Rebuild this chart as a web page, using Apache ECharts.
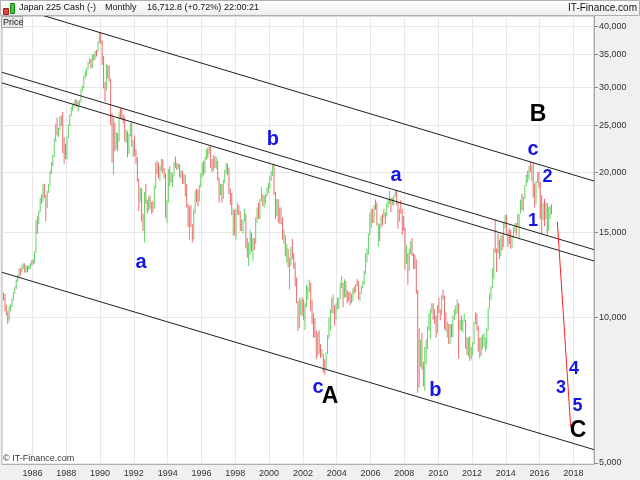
<!DOCTYPE html>
<html><head><meta charset="utf-8">
<script src="https://cdn.jsdelivr.net/npm/echarts@6/dist/echarts.min.js"></script>
<style>html,body{margin:0;padding:0;background:#fff}#c{width:640px;height:480px}</style>
</head><body><div id="c"></div><script>
// Monthly bars, first bar = April 1984, values in thousands of index points
const startYear = 1984, startMonth = 4;
const opens = [
11.15,10.95,10.35,10.18,9.90,10.45,10.55,10.90,11.25,
11.54,11.99,12.20,12.58,12.43,12.78,12.88,12.50,12.72,12.70,12.80,12.90,
13.11,13.02,13.64,15.86,15.83,16.59,17.65,17.51,18.79,17.85,16.91,18.20,
18.82,20.02,20.77,21.57,23.27,24.90,24.18,24.49,26.03,26.01,22.77,22.69,
21.56,23.62,24.99,26.26,27.26,27.42,27.77,28.08,27.37,27.92,28.00,29.58,
30.16,31.58,31.99,32.84,33.71,34.27,32.95,34.95,34.43,35.64,35.55,37.27,
38.92,37.19,34.59,29.98,29.59,33.13,31.94,31.04,25.98,20.98,25.19,22.46,
23.85,23.29,26.41,26.29,26.11,25.79,23.29,24.12,22.34,23.92,25.22,22.69,
22.98,22.02,21.34,19.35,17.39,18.35,15.95,15.91,18.06,17.40,16.77,17.68,
16.93,17.02,16.95,18.59,20.92,20.55,19.59,20.38,21.03,20.11,19.70,16.41,
17.42,20.23,19.11,19.11,19.73,20.97,20.64,20.45,20.63,19.56,19.99,19.08,
19.72,18.65,17.05,16.14,16.81,15.44,14.52,16.68,18.12,17.91,17.66,18.74,
19.87,20.81,20.13,21.41,22.04,21.96,22.53,20.69,20.17,21.56,20.47,21.02,
19.36,18.33,18.56,18.00,19.15,20.07,20.61,20.33,18.23,17.89,16.46,16.64,
15.26,16.63,16.83,16.53,15.64,15.67,15.83,16.38,14.11,13.41,13.57,14.88,
13.84,14.50,14.37,15.84,16.70,16.11,17.53,17.86,17.44,17.61,17.94,18.56,
18.93,19.54,19.96,20.34,17.97,16.33,17.41,15.73,16.86,15.75,14.54,14.65,
13.79,13.84,12.88,13.00,13.93,13.26,12.97,11.86,10.71,9.78,10.37,10.70,
10.54,10.00,10.59,11.02,11.49,11.76,10.62,9.88,9.62,9.38,8.64,9.22,
8.58,8.34,8.36,7.97,7.83,8.42,9.08,9.56,10.34,10.22,10.56,10.10,
10.68,10.78,11.04,11.72,11.76,11.24,11.86,11.33,11.08,10.82,10.77,10.90,
11.49,11.39,11.74,11.67,11.01,11.28,11.58,11.90,12.41,13.57,13.61,14.87,
16.11,16.65,16.21,17.06,16.91,15.47,15.51,15.46,16.14,16.13,16.40,16.27,
17.23,17.38,17.60,17.29,17.40,17.88,18.14,17.25,16.57,16.79,16.74,15.68,
15.31,13.59,13.60,12.53,13.85,14.34,13.48,13.38,13.07,11.26,8.58,8.51,
8.86,7.99,7.57,8.11,8.83,9.52,9.96,10.36,10.49,10.13,10.03,9.35,
10.55,10.20,10.13,11.09,11.06,9.77,9.38,9.54,8.82,9.37,9.20,9.94,
10.23,10.24,10.62,9.76,9.85,9.69,9.82,9.83,8.96,8.70,8.99,8.43,
8.46,8.80,9.72,10.08,9.52,8.54,9.01,8.70,8.84,8.87,8.93,9.45,
10.40,11.14,11.56,12.40,13.86,13.77,13.68,13.67,13.39,14.46,14.33,15.66,
16.29,14.91,14.84,14.83,14.30,14.63,15.16,15.62,15.43,16.17,16.41,17.46,
17.45,17.67,18.80,19.21,19.52,20.56,20.24,20.59,18.89,17.39,19.08,19.75,
19.03,17.52,16.03,16.76,16.67,17.23,15.58,16.57,16.89
];
const highs = [
11.25,11.19,10.60,10.30,10.55,10.65,10.95,11.30,11.60,
12.00,12.25,12.65,12.65,12.85,12.95,12.95,12.80,12.80,12.85,12.95,13.15,
13.20,13.70,15.90,16.20,16.65,17.70,18.00,18.94,18.90,17.95,18.30,18.90,
20.10,21.00,21.70,23.50,25.20,25.93,24.70,26.10,26.20,26.65,23.60,22.90,
23.70,25.10,26.30,27.30,27.60,28.00,28.35,28.20,28.00,28.20,29.60,30.20,
31.70,32.40,32.90,33.80,34.40,34.30,35.00,35.10,35.70,35.80,37.30,38.96,
38.95,37.50,34.80,30.70,33.50,33.30,33.20,31.20,26.50,25.90,25.30,24.20,
24.10,26.60,27.15,27.00,26.30,26.00,24.50,24.30,24.00,25.30,25.40,23.30,
23.80,22.30,21.50,19.40,18.60,18.50,16.40,18.20,18.90,17.50,17.80,17.90,
17.35,17.40,18.70,20.95,21.10,20.90,20.60,21.28,21.30,20.40,19.90,17.50,
20.30,20.60,20.00,19.90,21.00,21.55,20.90,20.80,20.75,20.20,20.10,19.80,
19.80,18.90,17.20,17.00,17.10,15.60,16.80,18.30,18.50,18.40,18.80,19.90,
20.90,21.10,21.50,22.30,22.50,22.75,22.60,21.30,21.70,21.60,21.50,21.10,
19.50,18.90,18.90,19.30,20.20,20.90,20.80,20.40,18.50,18.10,16.80,16.70,
16.80,17.30,17.10,16.60,16.00,15.90,16.80,16.40,14.60,14.30,15.20,15.00,
14.60,14.60,16.10,16.90,17.30,17.60,18.60,18.00,17.90,18.00,18.60,19.00,
19.60,20.10,20.70,20.83,18.20,17.60,17.60,16.90,16.90,16.10,15.20,14.80,
14.20,13.90,13.30,14.00,14.56,13.60,13.00,12.10,10.80,11.00,10.90,11.00,
10.90,10.70,11.70,11.60,11.98,11.80,10.90,10.20,9.95,9.40,9.30,9.40,
8.80,8.60,8.40,8.20,8.45,9.20,10.00,10.40,11.00,11.16,10.60,10.70,
11.00,11.00,11.80,12.20,11.80,12.00,11.90,11.40,11.30,11.30,11.20,11.50,
11.60,11.75,12.00,11.90,11.30,11.60,11.90,12.50,13.60,13.90,14.90,16.45,
16.80,16.80,17.10,17.56,17.30,15.70,15.60,16.20,16.40,16.80,16.50,17.30,
17.60,18.30,17.70,17.70,17.90,18.30,18.30,17.40,16.80,17.50,16.80,16.20,
15.35,14.10,13.60,13.90,14.40,14.60,13.60,13.50,13.20,11.40,9.50,9.00,
9.30,8.10,8.70,9.00,9.60,10.20,10.40,10.70,10.70,10.40,10.10,10.60,
10.98,10.40,11.10,11.41,11.10,10.25,9.80,9.70,9.70,9.70,10.10,10.40,
10.60,10.90,10.70,9.90,10.10,9.90,10.20,9.90,9.10,9.10,9.15,8.70,
8.90,9.80,10.26,10.20,9.60,9.10,9.10,9.20,9.30,9.10,9.50,10.45,
11.20,11.60,12.65,13.90,15.94,13.90,14.95,14.50,14.80,14.80,15.75,16.32,
16.32,15.00,15.30,15.20,14.70,15.40,15.70,15.70,16.40,16.40,17.52,18.03,
17.80,18.80,19.78,20.13,20.60,20.95,20.65,20.95,18.95,19.20,20.01,20.01,
19.10,17.90,17.29,17.61,17.30,17.25,16.94,17.00,17.16
];
const lows = [
10.85,10.30,10.10,9.70,9.85,10.30,10.50,10.85,11.20,
11.45,11.85,12.10,12.20,12.40,12.60,12.40,12.40,12.40,12.55,12.60,12.80,
12.88,12.95,13.60,14.90,15.60,16.50,17.20,17.40,17.70,15.82,16.85,18.10,
18.70,19.80,20.60,21.50,23.10,23.80,23.60,24.40,24.90,21.91,20.80,21.30,
21.20,23.50,24.90,26.10,26.80,27.20,27.50,27.20,26.70,27.40,27.90,29.40,
29.80,31.20,31.60,32.60,33.50,32.80,32.80,34.00,34.20,34.70,35.40,37.00,
36.80,33.30,29.80,28.00,29.50,31.20,30.80,25.00,20.90,19.78,22.10,22.30,
22.10,23.10,25.90,25.70,25.20,23.10,23.00,21.46,21.80,23.70,22.60,21.50,
21.60,20.80,19.10,16.60,17.30,15.80,15.10,14.31,17.20,16.40,16.60,16.80,
16.40,16.50,16.80,18.50,19.80,19.40,19.20,20.10,19.90,19.40,16.08,15.67,
17.30,18.70,19.00,18.60,19.60,20.40,20.20,20.30,19.50,19.40,18.90,18.90,
17.80,16.90,15.40,14.49,15.40,14.30,14.50,16.40,17.30,17.00,17.40,18.60,
19.50,19.70,19.90,21.20,21.40,21.80,20.40,20.00,20.10,20.40,20.30,19.20,
17.30,17.90,17.30,17.60,19.00,19.90,19.70,18.00,17.10,16.30,14.77,14.80,
14.50,16.30,16.30,15.10,15.10,14.90,15.80,13.90,13.30,12.79,13.50,13.70,
13.10,13.80,14.20,15.70,16.00,16.00,17.40,17.00,16.90,17.20,17.80,18.10,
18.50,19.20,19.60,17.90,16.00,16.20,15.70,15.60,15.60,14.50,14.20,13.40,
13.00,12.70,11.43,12.80,13.20,12.60,11.60,10.70,9.38,9.50,10.10,10.10,
9.90,9.42,10.50,10.90,11.30,10.30,9.70,9.08,9.10,8.20,8.30,8.40,
8.25,8.30,7.70,7.61,7.80,8.40,9.05,9.40,10.20,10.20,9.61,9.90,
10.40,10.40,10.90,11.50,10.50,11.00,11.00,10.70,10.80,10.60,10.70,10.80,
11.20,11.30,11.60,10.90,10.80,11.20,11.50,11.70,12.30,13.00,13.50,14.80,
15.34,15.70,15.70,16.70,15.50,14.05,14.40,15.30,15.50,16.10,15.60,16.20,
16.90,17.20,16.53,17.10,17.00,17.80,17.10,15.27,15.80,16.40,14.80,15.10,
12.57,12.90,11.69,12.50,13.50,13.40,12.60,12.60,11.20,6.99,7.16,7.90,
7.80,7.20,7.05,8.00,8.60,9.40,9.05,10.20,9.90,9.70,9.08,9.30,
10.20,9.87,10.10,10.90,9.46,9.36,9.09,8.81,8.80,9.10,9.10,9.90,
10.10,10.20,8.23,9.40,9.40,9.30,9.80,8.62,8.36,8.30,8.14,8.20,
8.35,8.80,9.70,9.40,8.50,8.24,8.33,8.60,8.70,8.50,8.60,9.40,
10.40,10.90,11.50,12.00,13.60,12.42,13.60,13.20,13.40,13.80,14.00,15.30,
14.90,13.99,14.20,13.88,13.96,14.60,15.00,14.75,15.40,14.53,16.40,16.67,
16.59,17.60,18.70,19.00,19.30,19.99,19.12,17.70,16.90,17.20,19.00,18.50,
16.02,14.87,15.90,15.47,16.00,14.86,15.10,16.00,16.36
];
const closes = [
10.95,10.35,10.18,9.90,10.45,10.55,10.90,11.25,11.54,
11.99,12.20,12.58,12.43,12.78,12.88,12.50,12.72,12.70,12.80,12.90,13.11,
13.02,13.64,15.86,15.83,16.59,17.65,17.51,18.79,17.85,16.91,18.20,18.82,
20.02,20.77,21.57,23.27,24.90,24.18,24.49,26.03,26.01,22.77,22.69,21.56,
23.62,24.99,26.26,27.26,27.42,27.77,28.08,27.37,27.92,28.00,29.58,30.16,
31.58,31.99,32.84,33.71,34.27,32.95,34.95,34.43,35.64,35.55,37.27,38.92,
37.19,34.59,29.98,29.59,33.13,31.94,31.04,25.98,20.98,25.19,22.46,23.85,
23.29,26.41,26.29,26.11,25.79,23.29,24.12,22.34,23.92,25.22,22.69,22.98,
22.02,21.34,19.35,17.39,18.35,15.95,15.91,18.06,17.40,16.77,17.68,16.93,
17.02,16.95,18.59,20.92,20.55,19.59,20.38,21.03,20.11,19.70,16.41,17.42,
20.23,19.11,19.11,19.73,20.97,20.64,20.45,20.63,19.56,19.99,19.08,19.72,
18.65,17.05,16.14,16.81,15.44,14.52,16.68,18.12,17.91,17.66,18.74,19.87,
20.81,20.13,21.41,22.04,21.96,22.53,20.69,20.17,21.56,20.47,21.02,19.36,
18.33,18.56,18.00,19.15,20.07,20.61,20.33,18.23,17.89,16.46,16.64,15.26,
16.63,16.83,16.53,15.64,15.67,15.83,16.38,14.11,13.41,13.57,14.88,13.84,
14.50,14.37,15.84,16.70,16.11,17.53,17.86,17.44,17.61,17.94,18.56,18.93,
19.54,19.96,20.34,17.97,16.33,17.41,15.73,16.86,15.75,14.54,14.65,13.79,
13.84,12.88,13.00,13.93,13.26,12.97,11.86,10.71,9.78,10.37,10.70,10.54,
10.00,10.59,11.02,11.49,11.76,10.62,9.88,9.62,9.38,8.64,9.22,8.58,
8.34,8.36,7.97,7.83,8.42,9.08,9.56,10.34,10.22,10.56,10.10,10.68,
10.78,11.04,11.72,11.76,11.24,11.86,11.33,11.08,10.82,10.77,10.90,11.49,
11.39,11.74,11.67,11.01,11.28,11.58,11.90,12.41,13.57,13.61,14.87,16.11,
16.65,16.21,17.06,16.91,15.47,15.51,15.46,16.14,16.13,16.40,16.27,17.23,
17.38,17.60,17.29,17.40,17.88,18.14,17.25,16.57,16.79,16.74,15.68,15.31,
13.59,13.60,12.53,13.85,14.34,13.48,13.38,13.07,11.26,8.58,8.51,8.86,
7.99,7.57,8.11,8.83,9.52,9.96,10.36,10.49,10.13,10.03,9.35,10.55,
10.20,10.13,11.09,11.06,9.77,9.38,9.54,8.82,9.37,9.20,9.94,10.23,
10.24,10.62,9.76,9.85,9.69,9.82,9.83,8.96,8.70,8.99,8.43,8.46,
8.80,9.72,10.08,9.52,8.54,9.01,8.70,8.84,8.87,8.93,9.45,10.40,
11.14,11.56,12.40,13.86,13.77,13.68,13.67,13.39,14.46,14.33,15.66,16.29,
14.91,14.84,14.83,14.30,14.63,15.16,15.62,15.43,16.17,16.41,17.46,17.45,
17.67,18.80,19.21,19.52,20.56,20.24,20.59,18.89,17.39,19.08,19.75,19.03,
17.52,16.03,16.76,16.67,17.23,15.58,16.57,16.89,16.7128
];
const lastPrice = 16712.8;

// axis ticks
const yearTicks = [1986,1988,1990,1992,1994,1996,1998,2000,2002,2004,2006,2008,2010,2012,2014,2016,2018];
const priceTicks = [5000,10000,15000,20000,25000,30000,35000,40000];

// drawn channel lines: [year, price] end points
const topLine   = [[1984.2, 44740], [2019.22, 19167]];
const midLineA  = [[1984.2, 32178], [2019.22, 13821]];
const midLineB  = [[1984.2, 30593], [2019.22, 13091]];
const lowLine   = [[1984.2, 12404], [2019.22, 5328]];
const projLine  = [[2017.05, 15787], [2017.84, 5942]];

// wave labels
const waveText  = ['a','b','c','A','a','b','B','c','2','1','3','4','5','C'];
const waveYear  = [1992.42,2000.23,2002.89,2003.60,2007.51,2009.84,2015.91,2015.61,2016.47,2015.61,2017.27,2018.04,2018.24,2018.27];
const wavePrice = [13028,23415,7180,6846,19724,7078,26253,22325,19535,15840,7146,7823,6558,5821];

const UNIT = 1000;
const bars = [];
const n = Math.min(opens.length, highs.length, lows.length, closes.length);
for (let i = 0; i < n; i++) {
  const m = startMonth - 1 + i;
  const t = startYear + Math.floor(m / 12) + ((m % 12) + 0.5) / 12;
  bars.push([t, opens[i] * UNIT, closes[i] * UNIT, lows[i] * UNIT, highs[i] * UNIT]);
}
const waves = waveText.map((s, i) => [waveYear[i], wavePrice[i], s]);

const FONT = 'Liberation Sans, Arial, sans-serif';
const UP = '#62d262', DOWN = '#ec6c6c';
const fmt = v => String(Math.round(v)).replace(/\B(?=(\d{3})+(?!\d))/g, ',');

const lineSeries = (d, color) => ({
  type: 'line', data: d, symbol: 'none', silent: true, clip: true, z: 3,
  lineStyle: { color: color, width: 1 }, animation: false
});

const chart = echarts.init(document.getElementById('c'), null, { renderer: 'canvas' });
const option = {
  animation: false,
  backgroundColor: '#eff0f2',
  grid: { left: 2, right: 46, top: 16, bottom: 16, show: true, backgroundColor: '#ffffff', borderColor: '#b5b5b5', borderWidth: 1 },
  xAxis: {
    type: 'value', min: 1984.2, max: 2019.22,
    axisLine: { show: true, lineStyle: { color: '#b0b0b0' } },
    axisTick: { show: false, customValues: yearTicks },
    axisLabel: { customValues: yearTicks, formatter: v => String(v), color: '#333', fontSize: 9, fontFamily: FONT, margin: 5 },
    splitLine: { show: true, lineStyle: { color: '#e8e8e8', width: 1 } }
  },
  yAxis: {
    type: 'log', logBase: 10, position: 'right', min: 4975, max: 42085,
    axisLine: { show: true, lineStyle: { color: '#a8a8a8' } },
    axisTick: { show: true, length: 4, customValues: priceTicks, lineStyle: { color: '#888' } },
    axisLabel: { customValues: priceTicks, formatter: v => fmt(v), color: '#333', fontSize: 9, fontFamily: FONT, margin: 5 },
    splitLine: { show: true, lineStyle: { color: '#e8e8e8', width: 1 } }
  },
  series: [
    {
      type: 'custom', data: bars, clip: true, z: 2, silent: true,
      encode: { x: 0, y: [1, 2, 3, 4] },
      renderItem: function (params, api) {
        const x = api.value(0), o = api.value(1), c = api.value(2), l = api.value(3), h = api.value(4);
        const pl = api.coord([x, l]), ph = api.coord([x, h]);
        return { type: 'rect', shape: { x: pl[0] - 0.5, y: ph[1], width: 1, height: Math.max(1, pl[1] - ph[1]) },
                 style: { fill: c >= o ? UP : DOWN } };
      }
    },
    lineSeries(topLine, '#1e1e1e'),
    Object.assign(lineSeries(midLineA, '#1e1e1e'), {
      markLine: {
        silent: true, symbol: 'none', animation: false,
        data: [{ yAxis: lastPrice }],
        lineStyle: { opacity: 0 },
        label: { position: 'end', distance: 3, formatter: '16,712.8', color: '#333', fontSize: 9, fontFamily: FONT,
                 backgroundColor: '#ffd200', borderColor: '#c9a400', borderWidth: 1, padding: [1, 1, 0, 1] }
      }
    }),
    lineSeries(midLineB, '#1e1e1e'),
    lineSeries(lowLine, '#1e1e1e'),
    lineSeries(projLine, '#ff2020'),
    {
      type: 'custom', data: waves, clip: false, z: 6, silent: true,
      encode: { x: 0, y: 1 },
      renderItem: function (params, api) {
        const p = api.coord([api.value(0), api.value(1)]);
        const s = waves[params.dataIndex][2];
        const big = /[A-Z]/.test(s), digit = /[0-9]/.test(s);
        return { type: 'text', x: p[0], y: p[1],
                 style: { text: s, fill: big ? '#000' : '#1414e6', fontFamily: FONT, fontWeight: 'bold',
                          fontSize: big ? 23 : (digit ? 18 : 20), align: 'center', verticalAlign: 'middle' } };
      }
    }
  ],
  graphic: [
    { type: 'rect', left: 0, top: 0, shape: { width: 639, height: 15 }, z: 10,
      style: { fill: new echarts.graphic.LinearGradient(0, 0, 0, 1, [{ offset: 0, color: '#ffffff' }, { offset: 1, color: '#eeeeee' }]), stroke: '#b0b0b0', lineWidth: 1 } },
    { type: 'rect', left: 3, top: 8, shape: { width: 5, height: 6 }, z: 11, style: { fill: '#e84040', stroke: '#a02020' } },
    { type: 'rect', left: 10, top: 3, shape: { width: 4, height: 10 }, z: 11, style: { fill: '#30d030', stroke: '#208020' } },
    { type: 'text', left: 19, top: 3, z: 11, style: { text: 'Japan 225 Cash (-)', fill: '#111', font: '9px ' + FONT } },
    { type: 'text', left: 105, top: 3, z: 11, style: { text: 'Monthly', fill: '#111', font: '9px ' + FONT } },
    { type: 'text', left: 147, top: 3, z: 11, style: { text: '16,712.8 (+0.72%)', fill: '#111', font: '9px ' + FONT } },
    { type: 'text', left: 224, top: 3, z: 11, style: { text: '22:00:21', fill: '#111', font: '9px ' + FONT } },
    { type: 'text', right: 3, top: 3, z: 11, style: { text: 'IT-Finance.com', fill: '#111', font: '10px ' + FONT } },
    { type: 'rect', left: 1, top: 16, shape: { width: 21, height: 11 }, z: 11, style: { fill: '#e6e6e6', stroke: '#a8a8a8' } },
    { type: 'text', left: 3, top: 18, z: 12, style: { text: 'Price', fill: '#222', font: '9px ' + FONT } },
    { type: 'text', left: 3, top: 454, z: 11, style: { text: '\u00a9 IT-Finance.com', fill: '#333', font: '9px ' + FONT } }
  ]
};
chart.setOption(option);
</script></body></html>
